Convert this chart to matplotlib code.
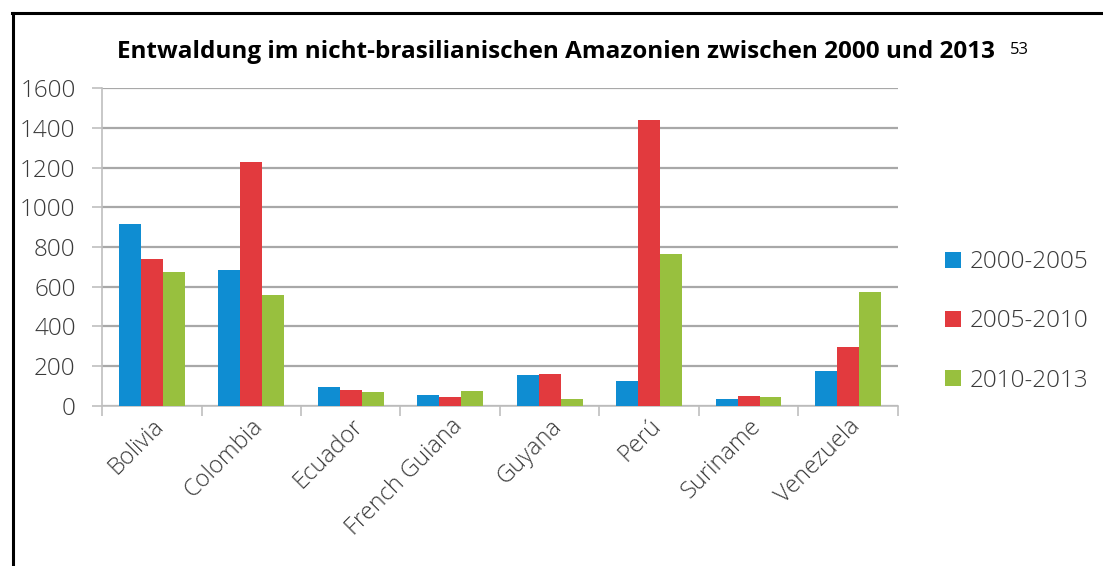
import numpy as np
import matplotlib.pyplot as plt
from matplotlib.lines import Line2D

countries = ['Bolivia', 'Colombia', 'Ecuador', 'French Guiana', 'Guyana', 'Perú', 'Suriname', 'Venezuela']
periods = ['2000-2005', '2005-2010', '2010-2013']
v_2000_2005 = [916, 685, 94, 57, 156, 127, 34, 176]
v_2005_2010 = [740, 1229, 80, 47, 161, 1439, 50, 298]
v_2010_2013 = [676, 558, 69, 77, 37, 763, 44, 574]
yticks = [0, 200, 400, 600, 800, 1000, 1200, 1400, 1600]

colors = ['#0f8dd2', '#e23a3e', '#98c03e']
txt = '#3a3a3a'
grid = '#a8a8a8'

fig = plt.figure(figsize=(11.03, 5.66), dpi=100)
ax = fig.add_axes([0.0925, 0.2827, 0.7215, 0.5618])

x = np.arange(len(countries))
w = 0.22
for i, (vals, lab) in enumerate(zip([v_2000_2005, v_2005_2010, v_2010_2013], periods)):
    ax.bar(x + (i - 1) * w, vals, width=w, color=colors[i], label=lab, zorder=3)

ax.set_xlim(-0.5, len(countries) - 0.5)
ax.set_ylim(0, 1600)
ax.set_yticks(yticks)
ax.set_yticklabels([str(t) for t in yticks], fontsize=17.5, color=txt, family='Open Sans', weight='light')
ax.yaxis.grid(True, color=grid, lw=1.6, zorder=0)
ax.tick_params(axis='y', length=7, color='#bfbfbf', width=1.2, pad=12)

# category boundary ticks
ax.set_xticks(np.arange(-0.5, len(countries), 1.0))
ax.set_xticklabels([])
ax.tick_params(axis='x', which='major', length=7, color='#bfbfbf', width=1.2)
ax.set_xticks(x, minor=True)
ax.set_xticklabels(countries, minor=True, rotation=45, ha='right', rotation_mode='anchor',
                   fontsize=17, color=txt, family='Open Sans', weight='light')
ax.tick_params(axis='x', which='minor', length=0, pad=6)

for s in ['top', 'right']:
    ax.spines[s].set_visible(False)
ax.spines['left'].set_color('#bfbfbf')
ax.spines['bottom'].set_color('#bfbfbf')
ax.spines['left'].set_linewidth(1.2)
ax.spines['bottom'].set_linewidth(1.2)

leg = fig.legend(loc='center left', bbox_to_anchor=(0.837, 0.432), frameon=False,
                 handlelength=0.65, handleheight=0.65, handletextpad=0.35, labelspacing=1.45,
                 prop={'family': 'Open Sans', 'weight': 'light', 'size': 17.5})
for t in leg.get_texts():
    t.set_color(txt)

fig.text(117 / 1103, 0.908, 'Entwaldung im nicht-brasilianischen Amazonien zwischen 2000 und 2013',
         ha='left', va='center', fontsize=17.5, weight='bold', family='Open Sans', color='black')
fig.text(1010 / 1103, 0.912, '53', ha='left', va='center', fontsize=12, family='Open Sans', color='black')

# outer frame
fig.add_artist(Line2D([13 / 1103, 13 / 1103], [0, 1 - 13 / 566], transform=fig.transFigure, color='black', lw=2.2))
fig.add_artist(Line2D([12 / 1103, 1], [1 - 13 / 566, 1 - 13 / 566], transform=fig.transFigure, color='black', lw=2.2))

fig.savefig('out.png', dpi=100)
